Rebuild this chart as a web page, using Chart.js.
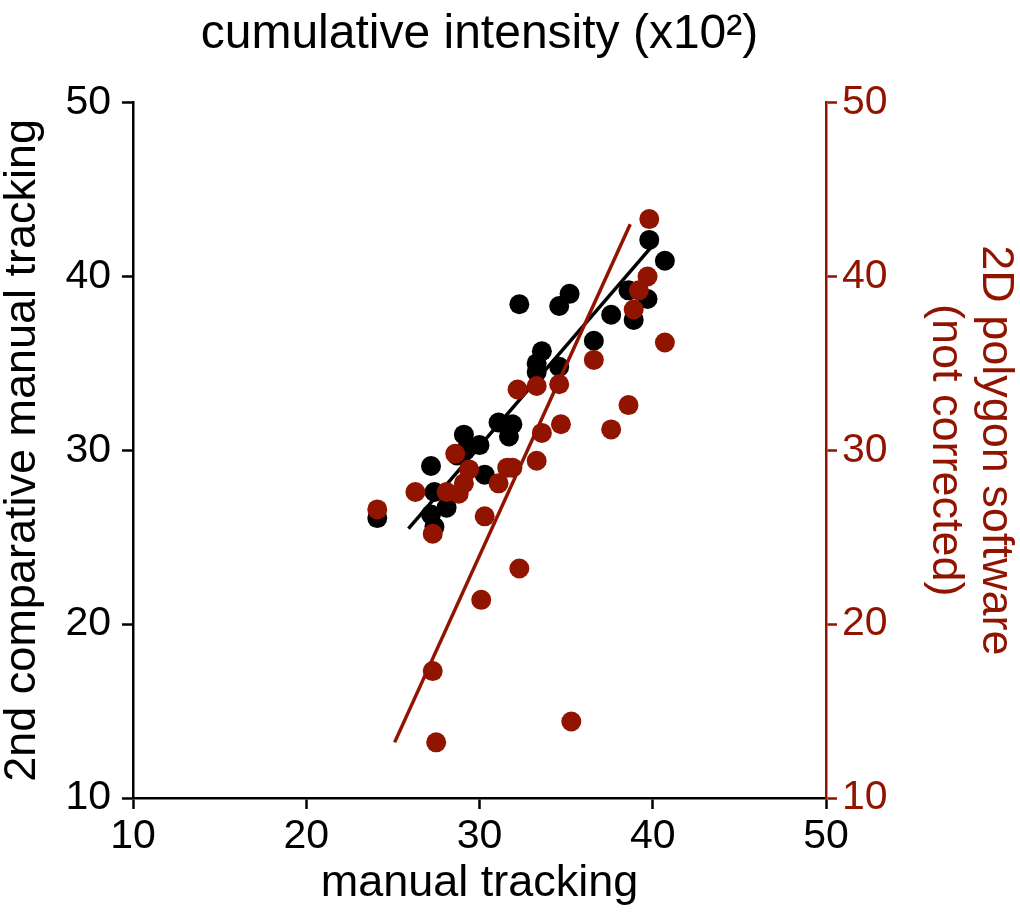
<!DOCTYPE html>
<html>
<head>
<meta charset="utf-8">
<script src="https://cdn.jsdelivr.net/npm/chart.js@4.4.1/dist/chart.umd.min.js"></script>
<style>
html, body { margin: 0; padding: 0; background: #fff; }
</style>
</head>
<body>
<canvas id="chart" width="1020" height="917"></canvas>
<script>
// Axis ticks (both y axes share the same range)
const tickValues = [10, 20, 30, 40, 50];

// 2nd comparative manual tracking vs manual tracking (black)
const blackX = [24.1, 27.2, 27.4, 28.1, 27.2, 27.4, 28.7, 29.1, 29.2, 30.0, 30.3, 31.1, 31.7, 31.9, 32.3, 33.3, 33.6, 33.3, 34.6, 34.6, 35.2, 36.6, 37.6, 38.6, 38.9, 39.7, 39.8, 40.7];
const blackY = [26.1, 29.1, 27.6, 26.7, 26.3, 25.6, 29.7, 30.9, 30.0, 30.3, 28.6, 31.6, 30.8, 31.5, 38.4, 35.0, 35.7, 34.5, 34.8, 38.3, 39.0, 36.3, 37.8, 39.2, 37.5, 38.7, 42.1, 40.9];

// 2D polygon software (not corrected) vs manual tracking (red)
const redX = [24.1, 26.3, 27.3, 28.1, 28.8, 29.1, 29.4, 28.6, 30.3, 31.1, 31.6, 31.9, 32.2, 33.3, 34.6, 33.3, 33.6, 34.7, 36.6, 37.6, 38.6, 38.9, 39.2, 40.7, 39.8, 39.7, 32.3, 30.1, 27.3, 27.5, 35.3];
const redY = [26.6, 27.6, 25.2, 27.6, 27.5, 28.1, 28.9, 29.8, 26.2, 28.1, 29.0, 29.0, 33.5, 33.7, 33.8, 29.4, 31.0, 31.5, 35.2, 31.2, 32.6, 38.1, 39.2, 36.2, 43.3, 40.0, 23.2, 21.4, 17.3, 13.2, 14.4];

// Regression lines (end points)
const blackFitX = [25.9, 40.1];
const blackFitY = [25.5, 41.9];
const redFitX = [25.1, 38.7];
const redFitY = [13.2, 43.0];

const BLACK = '#000000';
const RED = '#911400';
const FONT = 'Liberation Sans, Arial, sans-serif';

function toPoints(xs, ys) {
    return xs.map((x, i) => ({ x: x, y: ys[i] }));
}

function axisStyle(color) {
    return {
        grid: {
            display: true,
            drawOnChartArea: false,
            drawTicks: true,
            tickLength: 11,
            tickWidth: 2.5,
            tickColor: color
        },
        border: { display: true, color: color, width: 2.5 }
    };
}

const ctx = document.getElementById('chart').getContext('2d');

new Chart(ctx, {
    type: 'scatter',
    data: {
        datasets: [
            {
                data: toPoints(blackX, blackY),
                backgroundColor: BLACK,
                borderWidth: 0,
                pointRadius: 10,
                yAxisID: 'y',
                order: 4
            },
            {
                type: 'line',
                data: toPoints(blackFitX, blackFitY),
                borderColor: BLACK,
                borderWidth: 3.5,
                pointRadius: 0,
                yAxisID: 'y',
                order: 3
            },
            {
                data: toPoints(redX, redY),
                backgroundColor: RED,
                borderWidth: 0,
                pointRadius: 10,
                yAxisID: 'y2',
                order: 2
            },
            {
                type: 'line',
                data: toPoints(redFitX, redFitY),
                borderColor: RED,
                borderWidth: 3.5,
                pointRadius: 0,
                yAxisID: 'y2',
                order: 1
            }
        ]
    },
    options: {
        responsive: false,
        animation: false,
        layout: { padding: 0 },
        plugins: {
            legend: { display: false },
            tooltip: { enabled: false },
            title: {
                display: true,
                fullSize: false,
                align: 'center',
                text: 'cumulative intensity (x10²)',
                color: BLACK,
                font: { family: FONT, size: 48, weight: 'normal', lineHeight: 1.2 },
                padding: { top: 6, bottom: 39 }
            }
        },
        scales: {
            x: {
                type: 'linear',
                min: 10,
                max: 50,
                ...axisStyle(BLACK),
                afterBuildTicks: (s) => { s.ticks = tickValues.map(v => ({ value: v })); },
                afterFit: (s) => { s.height = 119; },
                ticks: {
                    color: BLACK,
                    padding: 3,
                    maxRotation: 0,
                    font: { family: FONT, size: 41 }
                },
                title: {
                    display: true,
                    text: 'manual tracking',
                    color: BLACK,
                    font: { family: FONT, size: 45, lineHeight: 1.2 },
                    padding: { top: 0, bottom: 6 }
                }
            },
            y: {
                type: 'linear',
                position: 'left',
                min: 10,
                max: 50,
                ...axisStyle(BLACK),
                afterBuildTicks: (s) => { s.ticks = tickValues.map(v => ({ value: v })); },
                afterFit: (s) => { s.width = 133; },
                ticks: {
                    color: BLACK,
                    padding: 11,
                    font: { family: FONT, size: 41 }
                },
                title: {
                    display: true,
                    text: '2nd comparative manual tracking',
                    color: BLACK,
                    font: { family: FONT, size: 45, lineHeight: 1.0 },
                    padding: { top: 0, bottom: 0 }
                }
            },
            y2: {
                type: 'linear',
                position: 'right',
                min: 10,
                max: 50,
                ...axisStyle(RED),
                afterBuildTicks: (s) => { s.ticks = tickValues.map(v => ({ value: v })); },
                afterFit: (s) => { s.width = 194; },
                ticks: {
                    color: RED,
                    padding: 5,
                    font: { family: FONT, size: 41 }
                },
                title: {
                    display: true,
                    text: ['2D polygon software', '(not corrected)'],
                    color: RED,
                    font: { family: FONT, size: 45, lineHeight: 1.1 },
                    padding: { top: 0, bottom: 0 }
                }
            }
        }
    }
});
</script>
</body>
</html>
